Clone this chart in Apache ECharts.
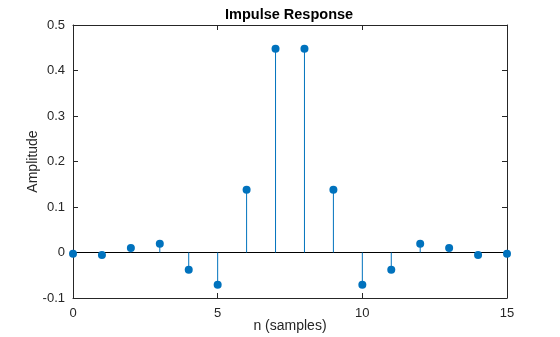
<!DOCTYPE html>
<html>
<head>
<meta charset="utf-8">
<script src="https://cdn.jsdelivr.net/npm/echarts@6/dist/echarts.min.js"></script>
<style>
  html, body { margin: 0; padding: 0; background: #fff; }
  #chart { width: 560px; height: 337px; }
</style>
</head>
<body>
<div id="chart"></div>
<script>
// Sample index n and the impulse response h[n]
const samples = [0, 1, 2, 3, 4, 5, 6, 7, 8, 9, 10, 11, 12, 13, 14, 15];
const amplitude = [-0.003, -0.0055, 0.010, 0.019, -0.038, -0.071, 0.138, 0.448,
                   0.448, 0.138, -0.071, -0.038, 0.019, 0.010, -0.0055, -0.003];
const xTicks = [0, 5, 10, 15];
const yTicks = [-0.1, 0, 0.1, 0.2, 0.3, 0.4, 0.5];

const stemColor = '#0072BD';
const axisColor = '#262626';
const fontFamily = 'Liberation Sans, Arial, Helvetica, sans-serif';

const points = samples.map((n, i) => [n, amplitude[i]]);

const chart = echarts.init(document.getElementById('chart'), null, { renderer: 'canvas' });

const axisCommon = {
  axisLine: { show: true, onZero: false, lineStyle: { color: axisColor, width: 1 } },
  axisTick: { show: true, inside: true, length: 5, lineStyle: { color: axisColor, width: 1 } },
  splitLine: { show: false }
};

chart.setOption({
  animation: false,
  backgroundColor: '#fff',
  title: {
    text: 'Impulse Response',
    left: 220, top: 2,
    textStyle: { fontFamily, fontSize: 14.5, fontWeight: 'bold', color: '#000' }
  },
  grid: { left: 73, right: 53, top: 25, bottom: 39, containLabel: false, outerBoundsMode: 'none' },
  xAxis: [
    Object.assign({
      type: 'value', min: 0, max: 15, interval: 5, position: 'bottom',
      name: 'n (samples)', nameLocation: 'middle', nameGap: 21, nameMoveOverlap: false,
      nameTextStyle: { fontFamily, fontSize: 14, color: axisColor },
      axisLabel: { fontFamily, fontSize: 13, color: axisColor, margin: 9,
        formatter: v => xTicks.includes(v) ? String(v) : '' }
    }, axisCommon),
    Object.assign({
      type: 'value', min: 0, max: 15, interval: 5, position: 'top',
      axisLabel: { show: false }
    }, axisCommon)
  ],
  yAxis: [
    Object.assign({
      type: 'value', min: -0.1, max: 0.5, interval: 0.1, position: 'left',
      name: 'Amplitude', nameLocation: 'middle', nameGap: 33, nameRotate: 90, nameMoveOverlap: false,
      nameTextStyle: { fontFamily, fontSize: 14, color: axisColor },
      axisLabel: { fontFamily, fontSize: 13, color: axisColor, margin: 8,
        formatter: v => {
          const t = yTicks.find(y => Math.abs(y - v) < 1e-9);
          if (t === undefined) return '';
          return t === 0 ? '0' : String(t);
        } }
    }, axisCommon),
    Object.assign({
      type: 'value', min: -0.1, max: 0.5, interval: 0.1, position: 'right',
      axisLabel: { show: false }
    }, axisCommon)
  ],
  series: [
    {
      // zero baseline across the full n range
      type: 'line',
      xAxisIndex: 0, yAxisIndex: 0,
      data: [[0, 0], [15, 0]],
      symbol: 'none',
      lineStyle: { color: '#000', width: 1 },
      silent: true, z: 1
    },
    {
      // stems from zero to each sample value
      type: 'custom',
      xAxisIndex: 0, yAxisIndex: 0,
      data: points,
      renderItem: (params, api) => {
        const x = api.value(0), y = api.value(1);
        const p0 = api.coord([x, 0]);
        const p1 = api.coord([x, y]);
        return {
          type: 'line',
          shape: { x1: p0[0], y1: p0[1], x2: p1[0], y2: p1[1] },
          style: { stroke: stemColor, lineWidth: 1 }
        };
      },
      z: 2
    },
    {
      type: 'scatter',
      xAxisIndex: 0, yAxisIndex: 0,
      data: points,
      symbol: 'circle', symbolSize: 8,
      itemStyle: { color: stemColor, opacity: 1 },
      clip: false,
      z: 3
    }
  ]
});
</script>
</body>
</html>
